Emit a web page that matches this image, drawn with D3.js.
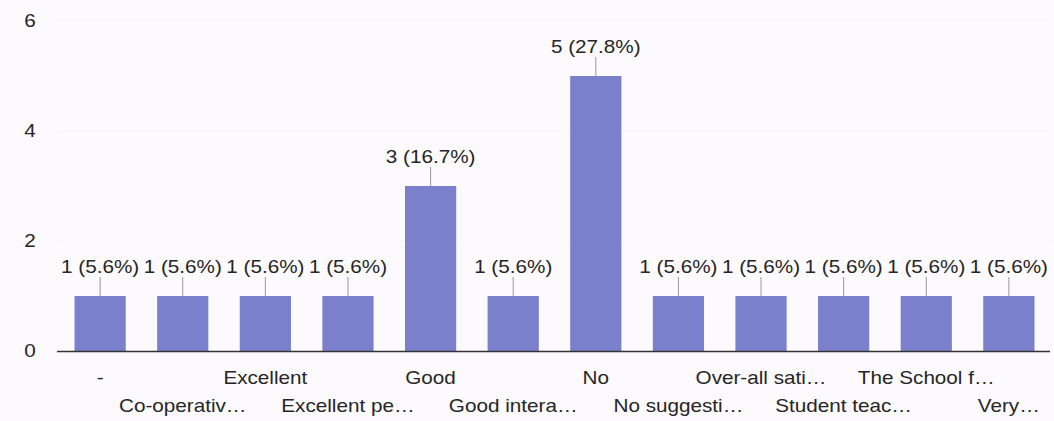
<!DOCTYPE html>
<html>
<head>
<meta charset="utf-8">
<script src="https://cdn.jsdelivr.net/npm/d3@7"></script>
<style>
  html, body { margin: 0; padding: 0; background: #fcfafc; }
  svg { display: block; }
  text { font-family: "Liberation Sans", Arial, sans-serif; fill: #262626; }
</style>
</head>
<body>
<svg id="chart" width="1054" height="421"></svg>
<script>
const categories = ["-", "Co-operativ…", "Excellent", "Excellent pe…", "Good", "Good intera…",
                    "No", "No suggesti…", "Over-all sati…", "Student teac…", "The School f…", "Very…"];
const values = [1, 1, 1, 1, 3, 1, 5, 1, 1, 1, 1, 1];
const yTicks = [0, 2, 4, 6];
const total = d3.sum(values);

(function () {
const svg = d3.select("#chart");
const mLeft = 58, mRight = 1051, mTop = 21, mBottom = 351;
const SX = 1.15; // horizontal text stretch of the reference
const FS = "18px";

const x = d3.scaleBand().domain(categories).range([mLeft, mRight]).paddingInner(0.38).paddingOuter(0.2);
const y = d3.scaleLinear().domain([0, 6]).range([mBottom, mTop]);

// very faint gridlines
svg.append("g").selectAll("line").data(yTicks.filter(t => t > 0)).join("line")
  .attr("x1", mLeft).attr("x2", mRight)
  .attr("y1", d => y(d)).attr("y2", d => y(d))
  .attr("stroke", "#f8f5f8").attr("stroke-width", 1);

// y tick labels
svg.append("g").selectAll("text").data(yTicks).join("text")
  .attr("transform", d => `translate(30,${y(d) + 6}) scale(${SX},1)`)
  .attr("text-anchor", "middle")
  .style("font-size", FS)
  .text(d => d);

// bars
svg.append("g").selectAll("rect").data(values).join("rect")
  .attr("x", (d, i) => x(categories[i]))
  .attr("width", x.bandwidth())
  .attr("y", d => y(d))
  .attr("height", d => y(0) - y(d))
  .attr("fill", "#7b80cd");

// leader lines
svg.append("g").selectAll("line").data(values).join("line")
  .attr("x1", (d, i) => x(categories[i]) + x.bandwidth() / 2)
  .attr("x2", (d, i) => x(categories[i]) + x.bandwidth() / 2)
  .attr("y1", d => y(d) - 19)
  .attr("y2", d => y(d))
  .attr("stroke", "#9a9a9a").attr("stroke-width", 1);

// value labels
svg.append("g").selectAll("text").data(values).join("text")
  .attr("transform", (d, i) => `translate(${x(categories[i]) + x.bandwidth() / 2},${y(d) - 23}) scale(${SX},1)`)
  .attr("text-anchor", "middle")
  .style("font-size", FS)
  .text(d => `${d} (${(d / total * 100).toFixed(1)}%)`);

// x axis line
svg.append("line")
  .attr("x1", mLeft - 1).attr("x2", mRight - 1)
  .attr("y1", mBottom + 0.5).attr("y2", mBottom + 0.5)
  .attr("stroke", "#333").attr("stroke-width", 1.5);

// category labels, staggered on two rows
svg.append("g").selectAll("text").data(categories).join("text")
  .attr("transform", (d, i) => `translate(${x(d) + x.bandwidth() / 2},${i % 2 === 0 ? 384 : 412}) scale(${SX},1)`)
  .attr("text-anchor", "middle")
  .style("font-size", FS)
  .text(d => d);
})();
</script>
</body>
</html>
